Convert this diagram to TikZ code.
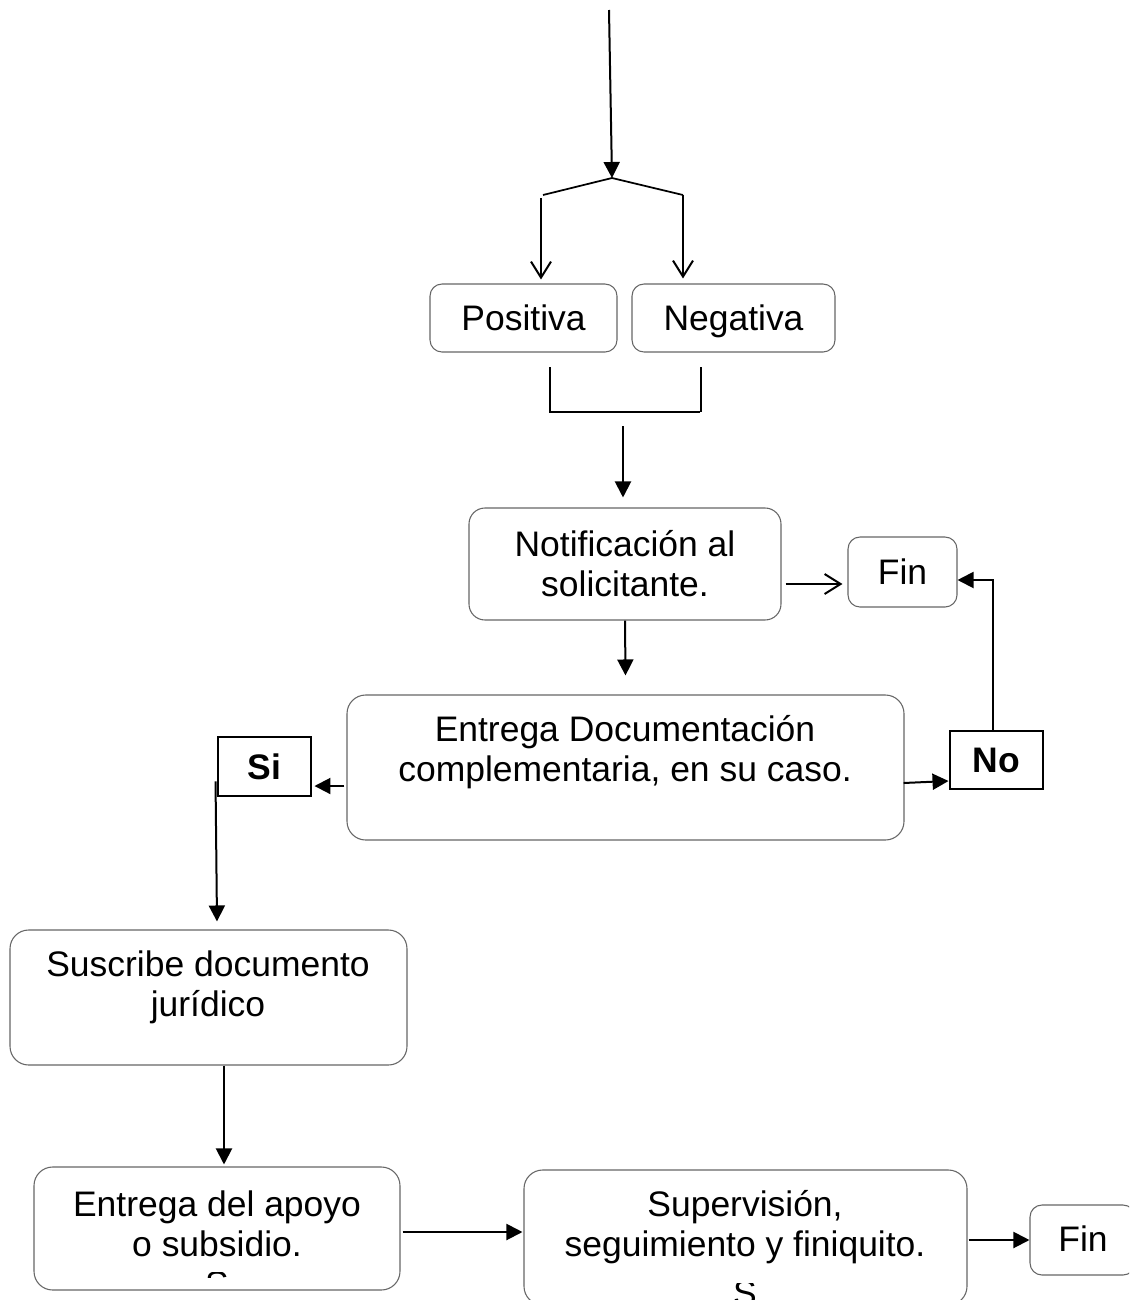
\documentclass[tikz,border=0pt]{standalone}
\usepackage{fontspec}
\setmainfont{Liberation Sans}
\usetikzlibrary{arrows.meta,calc}
\newcommand\fsz{\fontsize{26.6}{30}\selectfont}
\tikzset{
  bx/.style={draw=black!60, rounded corners=9pt, line width=0.8pt, inner sep=0pt},
  lbl/.style={align=center, inner sep=0pt, font=\fsz},
  one/.style={lbl, text height=19pt, text depth=0pt},
  dec/.style={draw=black, line width=2.2pt, inner sep=0pt, font=\fsz\bfseries, text height=19pt, text depth=0pt},
  arr/.style={line width=1.5pt, -{Triangle[length=12pt,width=12pt]}},
  oarr/.style={line width=1.5pt, -{Straight Barb[length=12pt,width=15pt,line width=1.5pt]}},
  ln/.style={line width=1.3pt}
}
\begin{document}
\begin{tikzpicture}[x=0.75pt,y=-0.75pt]
\useasboundingbox (0,0) rectangle (1129,1300);
\clip (0,0) rectangle (1129,1300);
% boxes
\node[bx, minimum width=187*0.75pt, minimum height=68*0.75pt] (pos) at (523.5,318) {};
\node[one] at (pos.center) {Positiva};
\node[bx, minimum width=203*0.75pt, minimum height=68*0.75pt] (neg) at (733.5,318) {};
\node[one] at (neg.center) {Negativa};
\node[bx, rounded corners=12pt, minimum width=312*0.75pt, minimum height=112*0.75pt] (notif) at (625,564) {};
\node[lbl] at (625,564) {Notificación al\\solicitante.};
\node[bx, minimum width=109*0.75pt, minimum height=70*0.75pt] (fin1) at (902.5,572) {};
\node[one] at (fin1.center) {Fin};
\node[bx, rounded corners=14pt, minimum width=557*0.75pt, minimum height=145*0.75pt] (entrega) at (625.5,767.5) {};
\node[lbl] at (625,752) {Entrega Documentación\\complementaria, en su caso.};
\node[dec, minimum width=93*0.75pt, minimum height=59*0.75pt] (si) at (264.5,766.5) {Si};
\node[dec, minimum width=93*0.75pt, minimum height=58*0.75pt] (no) at (996.5,760) {No};
\node[bx, rounded corners=14pt, minimum width=397*0.75pt, minimum height=135*0.75pt] (suscribe) at (208.5,997.5) {};
\node[lbl] at (208,987) {Suscribe documento\\jurídico};
\node[bx, rounded corners=14pt, minimum width=366*0.75pt, minimum height=123*0.75pt] (apoyo) at (217,1228.5) {};
\node[lbl] at (217,1224) {Entrega del apoyo\\o subsidio.};
\node[bx, rounded corners=14pt, minimum width=443*0.75pt, minimum height=135*0.75pt] (superv) at (745.5,1237.5) {};
\node[lbl] at (745,1227) {Supervisión,\\seguimiento y finiquito.};
\node[bx, minimum width=105*0.75pt, minimum height=70*0.75pt] (fin2) at (1082.5,1240) {};
\node[one] at (1083,1239) {Fin};
% clipped fragments
\begin{scope}
\clip (730,1283) rectangle (760,1300);
\node[lbl, anchor=north] at (745,1280) {S};
\end{scope}
\begin{scope}
\clip (205,1272) rectangle (230,1277);
\node[lbl, anchor=north] at (217,1271) {S};
\end{scope}
% top split
\coordinate (top) at (609,10);
\coordinate (split) at (612,178);
\coordinate (sl) at (543,195);
\coordinate (sr) at (683,195);
\draw[arr] (top) -- (split);
\draw[ln] (split) -- (sl);
\draw[ln] (split) -- (sr);
\draw[oarr] (541,198) -- ($(pos.north)+(17.5,-4)$);
\draw[oarr] (sr) -- ($(neg.north)+(-50.5,-5)$);
% bracket
\coordinate (b1) at (550,367);
\coordinate (b2) at (550,412);
\coordinate (b3) at (700,412);
\coordinate (b4) at (701,367);
\draw[ln] (b1) -- (b2) -- (b3);
\draw[ln] (b4) -- (701,412);
\coordinate (bm) at (623,426);
\draw[arr] (bm) -- ($(notif.north)+(-2,-10)$);
% notif
\draw[oarr] ($(notif.east)+(4,20)$) -- ($(fin1.west)+(-5,12)$);
\draw[arr] (notif.south) -- ($(entrega.north)+(0,-19)$);
% entrega
\draw[arr] ($(entrega.west)+(-2,18.5)$) -- ($(si.east)+(2,19.5)$);
\draw[arr] ($(si.south west)+(-1,-16)$) -- ($(suscribe.north)+(8.5,-8)$);
\draw[arr] ($(entrega.east)+(-1,15.5)$) -- ($(no.west)+(0,21)$);
\draw[arr] ($(no.north)+(-3.5,0)$) |- ($(fin1.east)+(0,8)$);
% bottom
\draw[arr] ($(suscribe.south)+(15.5,0)$) -- ($(apoyo.north)+(7,-2)$);
\draw[arr] ($(apoyo.east)+(2,3.5)$) -- ($(superv.west)+(-1,-5.5)$);
\draw[arr] ($(superv.east)+(1,2.5)$) -- (fin2.west);
\end{tikzpicture}
\end{document}
